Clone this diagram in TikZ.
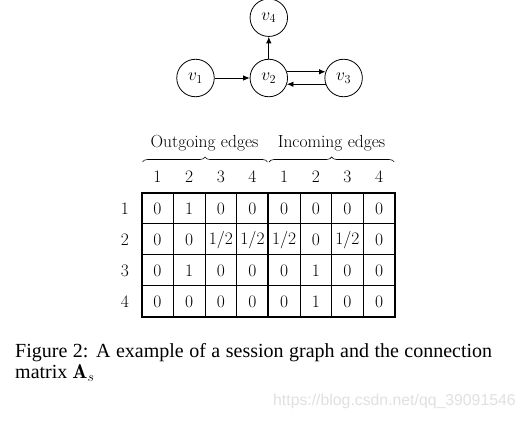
\RequirePackage{fix-cm}
\documentclass[tikz,border=0pt]{standalone}
\usepackage{fontspec}
\newfontfamily\captionfont{Liberation Serif}
\newfontfamily\markfont{Liberation Sans}
\usetikzlibrary{positioning,arrows.meta,decorations.pathreplacing}

\begin{document}
\begin{tikzpicture}[x=1pt,y=-1pt,>={Latex[length=6.5pt,width=5.5pt]},
    every node/.style={font=\fontsize{17.5}{21}\selectfont},
    vertex/.style={draw,circle,line width=0.8pt,minimum size=37.5pt,inner sep=0pt}]
    \useasboundingbox (0,0) rectangle (526,420);

    % Draw the session graph
    \node[vertex] (v1) at (195.5,78) {$v_1$};
    \node[vertex,right=35pt of v1] (v2) {$v_2$};
    \node[vertex,right=36.5pt of v2] (v3) {$v_3$};
    \node[vertex,above=22pt of v2] (v4) {$v_4$};

    \draw[->,line width=0.8pt] (v1) -- (v2);
    \draw[->,line width=0.8pt] (v2) -- (v4);
    \draw[->,line width=0.8pt] (v2.19) -- (v3.161);
    \draw[->,line width=0.8pt] (v3.199) -- (v2.-19);

    % Draw the grid of the matrix
    \foreach \r in {1,2,3}
        \draw[line width=0.6pt] (141.7,192.5+31*\r) -- (395,192.5+31*\r);
    \foreach \c in {1,2,3,5,6,7}
        \draw[line width=0.6pt] (141.7+31.66*\c,192.5) -- (141.7+31.66*\c,316.5);
    \draw[line width=2pt] (141.7,192.5) rectangle (395,316.5);
    \draw[line width=2pt] (268.3,192.5) -- (268.3,316.5);

    % Fill in the entries
    \foreach \row [count=\r] in {{0,1,0,0,0,0,0,0},{0,0,1/2,1/2,1/2,0,1/2,0},{0,1,0,0,0,1,0,0},{0,0,0,0,0,1,0,0}}
        \foreach \val [count=\c] in \row
            \node (m\r\c) at (125.85+31.66*\c,178+31*\r) {\val};

    % Add row and column numbers
    \foreach \r in {1,...,4}
        \node (row\r) at (125,178+31*\r) {\r};
    \foreach \n [count=\c] in {1,2,3,4,1,2,3,4}
        \node (col\c) at (125.85+31.66*\c,177) {\n};

    % Braces over the two halves
    \draw[decorate,decoration={brace,amplitude=5pt},line width=0.6pt] (142.5,162) -- (267.5,162);
    \draw[decorate,decoration={brace,amplitude=5pt},line width=0.6pt] (269.1,162) -- (394.2,162);
    \node (outlbl) at (204.5,143) {Outgoing edges};
    \node (inlbl) at (331.5,143) {Incoming edges};

    % Caption and watermark
    \node[anchor=base west,inner sep=0pt,font=\captionfont\fontsize{20}{24}\selectfont] (cap1) at (15,357)
        {\makebox[477pt][s]{Figure 2: A example of a session graph and the connection}};
    \node[anchor=base west,inner sep=0pt,font=\captionfont\fontsize{20}{24}\selectfont] (cap2) at (15,378)
        {matrix $\mathbf{A}_s$};
    \node[anchor=base west,inner sep=0pt,text=black!12,font=\markfont\fontsize{15.8}{18}\selectfont] (mark) at (273,405)
        {https://blog.csdn.net/qq\_39091546};
\end{tikzpicture}
\end{document}
